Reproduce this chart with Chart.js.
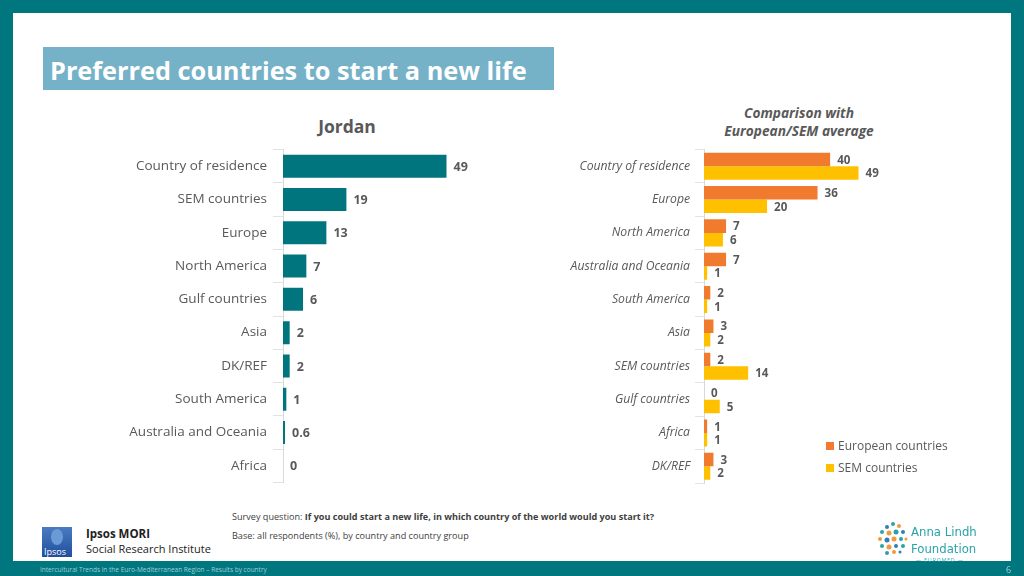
<!DOCTYPE html>
<html>
<head>
<meta charset="utf-8">
<script src="https://cdn.jsdelivr.net/npm/chart.js@4"></script>
<style>
  body { margin: 0; width: 1024px; height: 576px; background: #00767f; position: relative; overflow: hidden; font-family: "Open Sans", sans-serif; }
  .abs { position: absolute; }
  #page { left: 13px; top: 13px; width: 998px; height: 548px; background: #fff; }
  #titleBox { left: 43px; top: 47px; width: 511px; height: 43px; background: #75b2c8; }
  #titleBox span { position: absolute; left: 7px; top: 6px; color: #fff; font-weight: 700; font-size: 25.3px; white-space: nowrap; }
  .gray { color: #595959; }
  #jordan { left: 247px; top: 114px; width: 200px; text-align: center; font-weight: 700; font-size: 17.5px; }
  #compTitle { left: 679px; top: 104px; width: 240px; text-align: center; font-weight: 700; font-style: italic; font-size: 13.7px; line-height: 18px; }
  #leftWrap { left: 100px; top: 140px; width: 500px; height: 352px; }
  #rightWrap { left: 560px; top: 140px; width: 360px; height: 352px; }
  .leg { font-size: 12px; white-space: nowrap; }
  .leg i { display: inline-block; width: 8px; height: 8px; margin-right: 4px; vertical-align: 0px; }
  .foot { font-size: 9.1px; color: #404040; white-space: nowrap; }
  #band { left: 40px; top: 565px; font-size: 6.5px; color: #9fd0d3; white-space: nowrap; }
  #pg { left: 1006px; top: 563px; font-size: 9px; color: #9fd0d3; }
</style>
</head>
<body>
<div id="page" class="abs"></div>
<div id="titleBox" class="abs"><span>Preferred countries to start a new life</span></div>
<div id="jordan" class="abs gray">Jordan</div>
<div id="compTitle" class="abs gray">Comparison with<br>European/SEM average</div>
<div id="leftWrap" class="abs"><canvas id="leftChart" width="500" height="352"></canvas></div>
<div id="rightWrap" class="abs"><canvas id="rightChart" width="360" height="352"></canvas></div>
<div class="abs leg gray" style="left:826px; top:437px;"><i style="background:#f07b2f"></i>European countries</div>
<div class="abs leg gray" style="left:826px; top:459px;"><i style="background:#ffc000"></i>SEM countries</div>

<div class="abs foot" style="left:232px; top:510px;">Survey question: <b>If you could start a new life, in which country of the world would you start it?</b></div>
<div class="abs foot" style="left:232px; top:529px;">Base: all respondents (%), by country and country group</div>

<div class="abs" style="left:42px; top:527px; width:30px; height:30px; background:linear-gradient(#4a7cc0,#1f4f9e);">
  <div class="abs" style="left:9px; top:2px; width:12px; height:16px; border-radius:50%; background:#6b9bd6;"></div>
  <div class="abs" style="left:2px; top:18px; font-size:9px; color:#fff;">Ipsos</div>
</div>
<div class="abs" style="left:86px; top:526px; font-size:11.5px; font-weight:700; color:#222;">Ipsos MORI</div>
<div class="abs" style="left:86px; top:541px; font-size:11px; color:#222;">Social Research Institute</div>

<svg class="abs" style="left:876px; top:520px;" width="34" height="36">
  <circle cx="17" cy="4" r="2" fill="#2aa3a8"/><circle cx="23" cy="6" r="2" fill="#f29a3a"/>
  <circle cx="11" cy="7" r="2" fill="#2f7fb8"/><circle cx="6" cy="12" r="2" fill="#2aa3a8"/>
  <circle cx="13" cy="13" r="2.5" fill="#f29a3a"/><circle cx="20" cy="12" r="2.5" fill="#2aa3a8"/>
  <circle cx="27" cy="12" r="2" fill="#2f7fb8"/><circle cx="4" cy="19" r="2" fill="#f29a3a"/>
  <circle cx="11" cy="20" r="2.5" fill="#2f7fb8"/><circle cx="18" cy="19" r="2.5" fill="#f29a3a"/>
  <circle cx="25" cy="19" r="2" fill="#2aa3a8"/><circle cx="30" cy="19" r="1.5" fill="#f29a3a"/>
  <circle cx="6" cy="26" r="2" fill="#2aa3a8"/><circle cx="13" cy="27" r="2.5" fill="#f29a3a"/>
  <circle cx="20" cy="26" r="2" fill="#2f7fb8"/><circle cx="27" cy="26" r="2" fill="#2aa3a8"/>
  <circle cx="11" cy="33" r="2" fill="#2aa3a8"/><circle cx="18" cy="32" r="2" fill="#f29a3a"/>
  <circle cx="24" cy="32" r="1.5" fill="#2f7fb8"/>
</svg>
<div class="abs" style="left:911px; top:523px; font-size:13px; line-height:17px; color:#2aa3a8; font-family:'Liberation Sans Narrow','DejaVu Sans Condensed',sans-serif;">Anna Lindh<br>Foundation</div>
<div class="abs" style="left:916px; top:557px; font-size:5px; color:#2aa3a8; letter-spacing:1px;">— EUROMED —</div>

<div id="band" class="abs">Intercultural Trends in the Euro-Mediterranean Region – Results by country</div>
<div id="pg" class="abs">6</div>

<script>
// Jordan
const jordanLabels = ["Country of residence", "SEM countries", "Europe", "North America", "Gulf countries", "Asia", "DK/REF", "South America", "Australia and Oceania", "Africa"];
const jordanValues = [49, 19, 13, 7, 6, 2, 2, 1, 0.6, 0];

// comparison
const compLabels = ["Country of residence", "Europe", "North America", "Australia and Oceania", "South America", "Asia", "SEM countries", "Gulf countries", "Africa", "DK/REF"];
const europeanValues = [40, 36, 7, 7, 2, 3, 2, 0, 1, 3];
const semValues = [49, 20, 6, 1, 1, 2, 14, 5, 1, 2];

const gray = "#595959";
const teal = "#00757d";
const orange = "#f07b2f";
const yellow = "#ffc000";

// draws the value next to each bar end
const valueLabels = {
  id: "valueLabels",
  afterDatasetsDraw(chart, args, opts) {
    const ctx = chart.ctx;
    ctx.save();
    ctx.font = opts.font;
    ctx.fillStyle = gray;
    ctx.textAlign = "left";
    ctx.textBaseline = "middle";
    chart.data.datasets.forEach((ds, i) => {
      chart.getDatasetMeta(i).data.forEach((bar, j) => {
        ctx.fillText(String(ds.data[j]), bar.x + opts.offset, bar.y + 1);
      });
    });
    ctx.restore();
  }
};

function yAxis(width, fontStyle, size, tickLen, pad) {
  return {
    afterFit: (s) => { s.width = width; s.paddingTop = 0; s.paddingBottom = 0; },
    grid: { drawOnChartArea: false, drawTicks: true, tickLength: tickLen, color: "#e3e3e3", offset: true },
    border: { display: true, color: "#d9d9d9" },
    ticks: { color: gray, padding: pad, autoSkip: false, font: { family: "Open Sans", size: size, style: fontStyle } }
  };
}

new Chart(document.getElementById("leftChart"), {
  type: "bar",
  data: {
    labels: jordanLabels,
    datasets: [{ data: jordanValues, backgroundColor: teal, barPercentage: 0.69, categoryPercentage: 1 }]
  },
  options: {
    indexAxis: "y",
    responsive: false,
    animation: false,
    layout: { padding: { top: 9.5, bottom: 9.5, left: 0, right: 0 } },
    scales: {
      x: { display: false, min: 0, max: 95 },
      y: yAxis(183, "normal", 13.5, 10, 6)
    },
    plugins: {
      legend: { display: false },
      tooltip: { enabled: false },
      valueLabels: { font: "bold 12.5px 'Open Sans'", offset: 7 }
    }
  },
  plugins: [valueLabels]
});

new Chart(document.getElementById("rightChart"), {
  type: "bar",
  data: {
    labels: compLabels,
    datasets: [
      { label: "European countries", data: europeanValues, backgroundColor: orange, barPercentage: 1, categoryPercentage: 0.81 },
      { label: "SEM countries", data: semValues, backgroundColor: yellow, barPercentage: 1, categoryPercentage: 0.81 }
    ]
  },
  options: {
    indexAxis: "y",
    responsive: false,
    animation: false,
    layout: { padding: { top: 9.5, bottom: 9, left: 0, right: 0 } },
    scales: {
      x: { display: false, min: 0, max: 68.5 },
      y: yAxis(144, "italic", 12.2, 9, 5)
    },
    plugins: {
      legend: { display: false },
      tooltip: { enabled: false },
      valueLabels: { font: "bold 11.6px 'Open Sans'", offset: 7 }
    }
  },
  plugins: [valueLabels]
});
</script>
</body>
</html>
